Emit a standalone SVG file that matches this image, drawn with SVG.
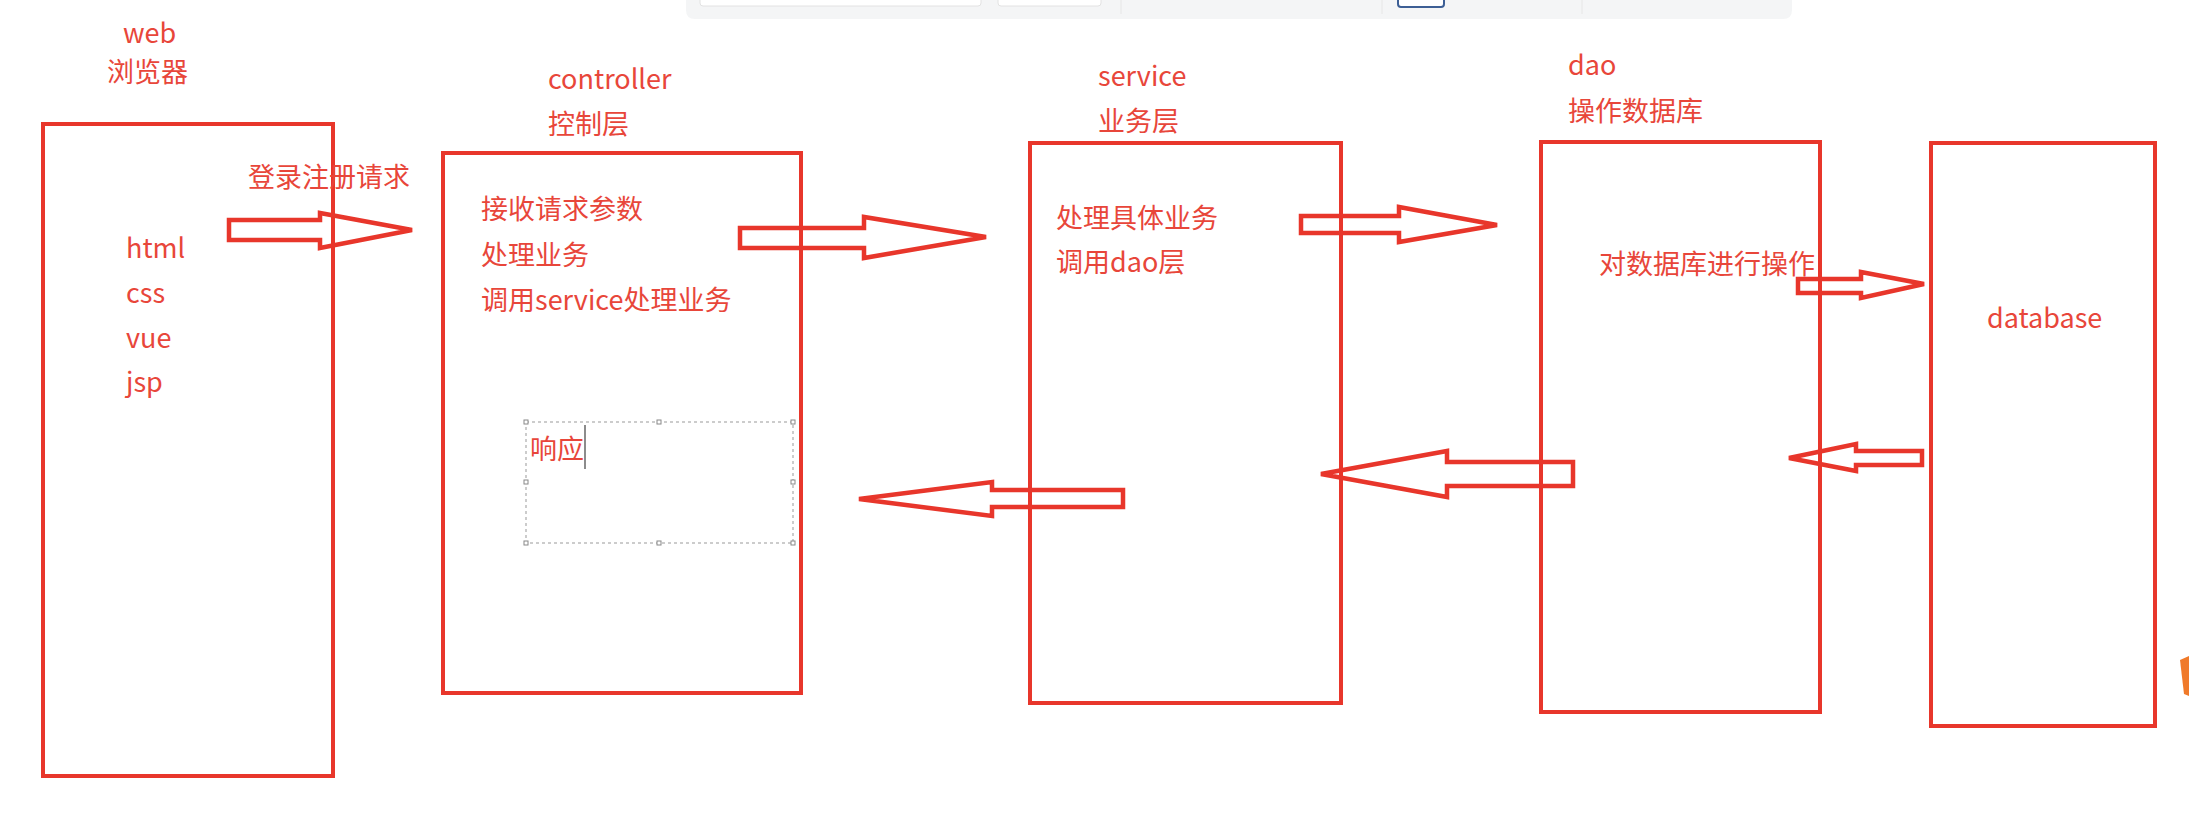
<svg xmlns="http://www.w3.org/2000/svg" width="2189" height="819" viewBox="0 0 2189 819">
<style>
.box{fill:none;stroke:#e8362b;stroke-width:4}
.arr{fill:none;stroke:#e8362b;stroke-width:4.5;stroke-linejoin:miter}
.t{font-family:"Noto Sans CJK SC","Noto Sans",sans-serif;font-size:27px;fill:#e8463a}
.h{fill:#fff;stroke:#888;stroke-width:1}
</style>
<rect width="2189" height="819" fill="#fff"/>
<g id="toolbar">
<path d="M686,0 H1792 V10 Q1792,19 1783,19 H695 Q686,19 686,10 Z" fill="#f4f5f6"/>
<rect x="700" y="-6" width="281" height="12" rx="3" fill="#fff" stroke="#e2e2e2"/>
<rect x="998" y="-6" width="103" height="12" rx="3" fill="#fff" stroke="#e2e2e2"/>
<line x1="1121" y1="0" x2="1121" y2="14" stroke="#e6e6e6"/>
<line x1="1382" y1="0" x2="1382" y2="14" stroke="#e6e6e6"/>
<rect x="1398" y="-6" width="46" height="13" rx="3" fill="#fff" stroke="#3d5f95" stroke-width="2"/>
<line x1="1582" y1="0" x2="1582" y2="14" stroke="#e6e6e6"/>
</g>
<g id="web">
<rect class="box" x="43" y="124" width="290" height="652"/>
<text class="t" x="123" y="43">web</text>
<text class="t" x="107" y="82">浏览器</text>
<text class="t" x="126" y="258">html</text>
<text class="t" x="126" y="303">css</text>
<text class="t" x="126" y="348">vue</text>
<text class="t" x="126" y="392">jsp</text>
</g>
<g id="controller">
<rect class="box" x="443" y="153" width="358" height="540"/>
<text class="t" x="548" y="89">controller</text>
<text class="t" x="548" y="134">控制层</text>
<text class="t" x="481" y="219">接收请求参数</text>
<text class="t" x="481" y="265">处理业务</text>
<text class="t" x="481" y="310">调用service处理业务</text>
</g>
<g id="response">
<rect x="526" y="422" width="267" height="121" fill="none" stroke="#999" stroke-width="1" stroke-dasharray="3 3"/>
<rect class="h" x="524" y="420" width="4" height="4"/>
<rect class="h" x="657" y="420" width="4" height="4"/>
<rect class="h" x="791" y="420" width="4" height="4"/>
<rect class="h" x="524" y="480" width="4" height="4"/>
<rect class="h" x="791" y="480" width="4" height="4"/>
<rect class="h" x="524" y="541" width="4" height="4"/>
<rect class="h" x="657" y="541" width="4" height="4"/>
<rect class="h" x="791" y="541" width="4" height="4"/>
<text class="t" x="530" y="459">响应</text>
<line x1="585" y1="425" x2="585" y2="469" stroke="#666" stroke-width="1.5"/>
</g>
<g id="service">
<rect class="box" x="1030" y="143" width="311" height="560"/>
<text class="t" x="1098" y="86">service</text>
<text class="t" x="1098" y="131">业务层</text>
<text class="t" x="1056" y="228">处理具体业务</text>
<text class="t" x="1056" y="272">调用dao层</text>
</g>
<g id="dao">
<rect class="box" x="1541" y="142" width="279" height="570"/>
<text class="t" x="1568" y="75">dao</text>
<text class="t" x="1568" y="121">操作数据库</text>
<text class="t" x="1599" y="274">对数据库进行操作</text>
</g>
<g id="database">
<rect class="box" x="1931" y="143" width="224" height="583"/>
<text class="t" x="1987" y="328">database</text>
</g>
<g id="connectors">
<path class="arr" d="M229,220 H320 V213 L412,230 L320,248 V240 H229 Z"/>
<text class="t" x="248" y="187">登录注册请求</text>
<path class="arr" d="M740,228 H864 V217 L986,237 L864,258 V248 H740 Z"/>
<path class="arr" d="M1301,216 H1399 V207 L1497,225 L1399,242 V233 H1301 Z"/>
<path class="arr" d="M1798,279 H1861 V272 L1924,284 L1861,298 V293 H1798 Z"/>
<path class="arr" d="M1922,451 H1856 V444 L1789,458 L1856,471 V465 H1922 Z"/>
<path class="arr" d="M1573,462 H1447 V451 L1321,474 L1447,497 V486 H1573 Z"/>
<path class="arr" d="M1123,490 H992 V482 L859,499 L992,516 V507 H1123 Z"/>
</g>
<path d="M2180,660 L2189,656 L2189,696 L2184,694 Z" fill="#f07a2a"/>
</svg>
